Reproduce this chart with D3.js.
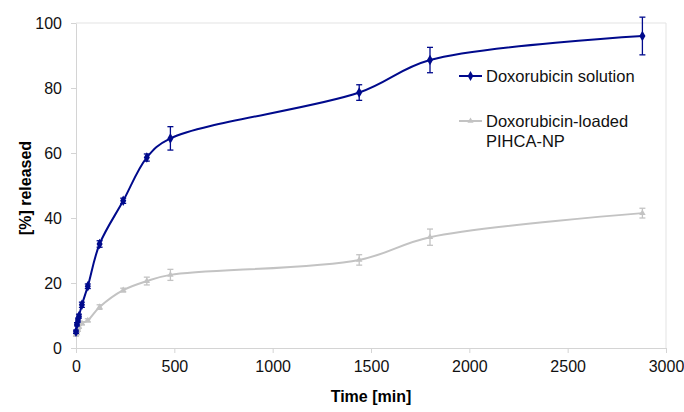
<!DOCTYPE html>
<html>
<head>
<meta charset="utf-8">
<script src="https://cdn.jsdelivr.net/npm/d3@7"></script>
<style>
  body { margin: 0; background: #fff; }
  text { font-family: "Liberation Sans", Arial, sans-serif; }
</style>
</head>
<body>
<div class="chart"></div>
<script>
// Sampling times [min]
const times = [0, 5, 10, 15, 30, 60, 120, 240, 360, 480, 1440, 1800, 2880];

// Doxorubicin solution
const solution = [5, 7.3, 8.6, 9.8, 13.3, 19, 32, 45.3, 58.6, 64.5, 78.6, 88.6, 96];
const solutionErr = [0.5, 0.5, 0.6, 0.6, 0.8, 0.7, 1, 0.8, 1.1, 3.6, 2.4, 3.9, 5.8];

// Doxorubicin-loaded PIHCA-NP
const loaded = [4, 4.5, 5.5, 6.5, 7.6, 8.5, 12.6, 17.8, 20.6, 22.5, 27.1, 34.1, 41.5];
const loadedErr = [0.3, 0.3, 0.3, 0.4, 0.5, 0.5, 0.7, 0.6, 1.2, 1.7, 1.6, 2.5, 1.5];

const xTicks = [0, 500, 1000, 1500, 2000, 2500, 3000];
const yTicks = [0, 20, 40, 60, 80, 100];

const width = 684, height = 412;
const margin = {top: 23, right: 18, bottom: 64, left: 76};

const svg = d3.select('.chart').append('svg')
    .attr('width', width)
    .attr('height', height);

const x = d3.scaleLinear()
    .domain([0, 3000])
    .range([margin.left, width - margin.right]);
const y = d3.scaleLinear()
    .domain([0, 100])
    .range([height - margin.bottom, margin.top]);

// plot frame (top and right)
svg.append('path')
    .attr('d', `M${x(0)},${y(100)}H${x(3000)}V${y(0)}`)
    .attr('fill', 'none')
    .attr('stroke', '#e3e3e3');

// axes
const xAxis = svg.append('g')
    .attr('transform', `translate(0,${y(0)})`)
    .call(d3.axisBottom(x).tickValues(xTicks).tickFormat(d3.format('d'))
      .tickSize(5).tickPadding(8).tickSizeOuter(0));
const yAxis = svg.append('g')
    .attr('transform', `translate(${x(0)},0)`)
    .call(d3.axisLeft(y).tickValues(yTicks).tickFormat(d3.format('d'))
      .tickSize(5).tickPadding(9).tickSizeOuter(0));

[xAxis, yAxis].forEach(a => {
  a.selectAll('.domain, line').attr('stroke', '#d4d4d4');
  a.selectAll('text')
      .attr('fill', '#111')
      .style('font-size', '16px');
});

svg.append('text')
    .attr('x', (x(0) + x(3000)) / 2)
    .attr('y', 402)
    .attr('text-anchor', 'middle')
    .attr('font-weight', 'bold')
    .style('font-size', '16px')
    .text('Time [min]');

svg.append('text')
    .attr('transform', 'translate(31,188) rotate(-90)')
    .attr('text-anchor', 'middle')
    .attr('font-weight', 'bold')
    .style('font-size', '16px')
    .text('[%] released');

const series = [
  {values: loaded, err: loadedErr, color: '#c3c3c3', symbol: d3.symbolTriangle, size: 18},
  {values: solution, err: solutionErr, color: '#000a8c', symbol: d3.symbolDiamond, size: 32}
];

const line = d3.line()
    .x(d => x(d[0]))
    .y(d => y(d[1]))
    .curve(d3.curveCatmullRom.alpha(0.5));

series.forEach(s => {
  const pts = times.map((t, i) => [t, s.values[i], s.err[i]]);
  const g = svg.append('g');

  g.append('path')
      .datum(pts)
      .attr('fill', 'none')
      .attr('stroke', s.color)
      .attr('stroke-width', 2)
      .attr('d', line);

  // error bars
  const eb = g.selectAll('.eb').data(pts).enter().append('g')
      .attr('stroke', s.color)
      .attr('stroke-width', 1.3);
  eb.append('line')
      .attr('x1', d => x(d[0])).attr('x2', d => x(d[0]))
      .attr('y1', d => y(d[1] - d[2])).attr('y2', d => y(d[1] + d[2]));
  eb.append('line')
      .attr('x1', d => x(d[0]) - 3).attr('x2', d => x(d[0]) + 3)
      .attr('y1', d => y(d[1] + d[2])).attr('y2', d => y(d[1] + d[2]));
  eb.append('line')
      .attr('x1', d => x(d[0]) - 3).attr('x2', d => x(d[0]) + 3)
      .attr('y1', d => y(d[1] - d[2])).attr('y2', d => y(d[1] - d[2]));

  g.selectAll('.mk').data(pts).enter().append('path')
      .attr('transform', d => `translate(${x(d[0])},${y(d[1])})`)
      .attr('d', d3.symbol().type(s.symbol).size(s.size))
      .attr('fill', s.color);
});

// legend
const legend = svg.append('g');
const legendItems = [
  {lines: ['Doxorubicin solution'], color: '#000a8c', symbol: d3.symbolDiamond, size: 28, y: 76},
  {lines: ['Doxorubicin-loaded', 'PIHCA-NP'], color: '#c3c3c3', symbol: d3.symbolTriangle, size: 16, y: 121}
];
legendItems.forEach(item => {
  legend.append('line')
      .attr('x1', 459).attr('x2', 482)
      .attr('y1', item.y).attr('y2', item.y)
      .attr('stroke', item.color)
      .attr('stroke-width', 2);
  legend.append('path')
      .attr('transform', `translate(470.5,${item.y})`)
      .attr('d', d3.symbol().type(item.symbol).size(item.size))
      .attr('fill', item.color);
  item.lines.forEach((t, i) => {
    legend.append('text')
        .attr('x', 486)
        .attr('y', item.y + i * 20.5)
        .attr('dy', '0.35em')
        .attr('fill', '#111')
        .style('font-size', '16.5px')
        .text(t);
  });
});
</script>
</body>
</html>
